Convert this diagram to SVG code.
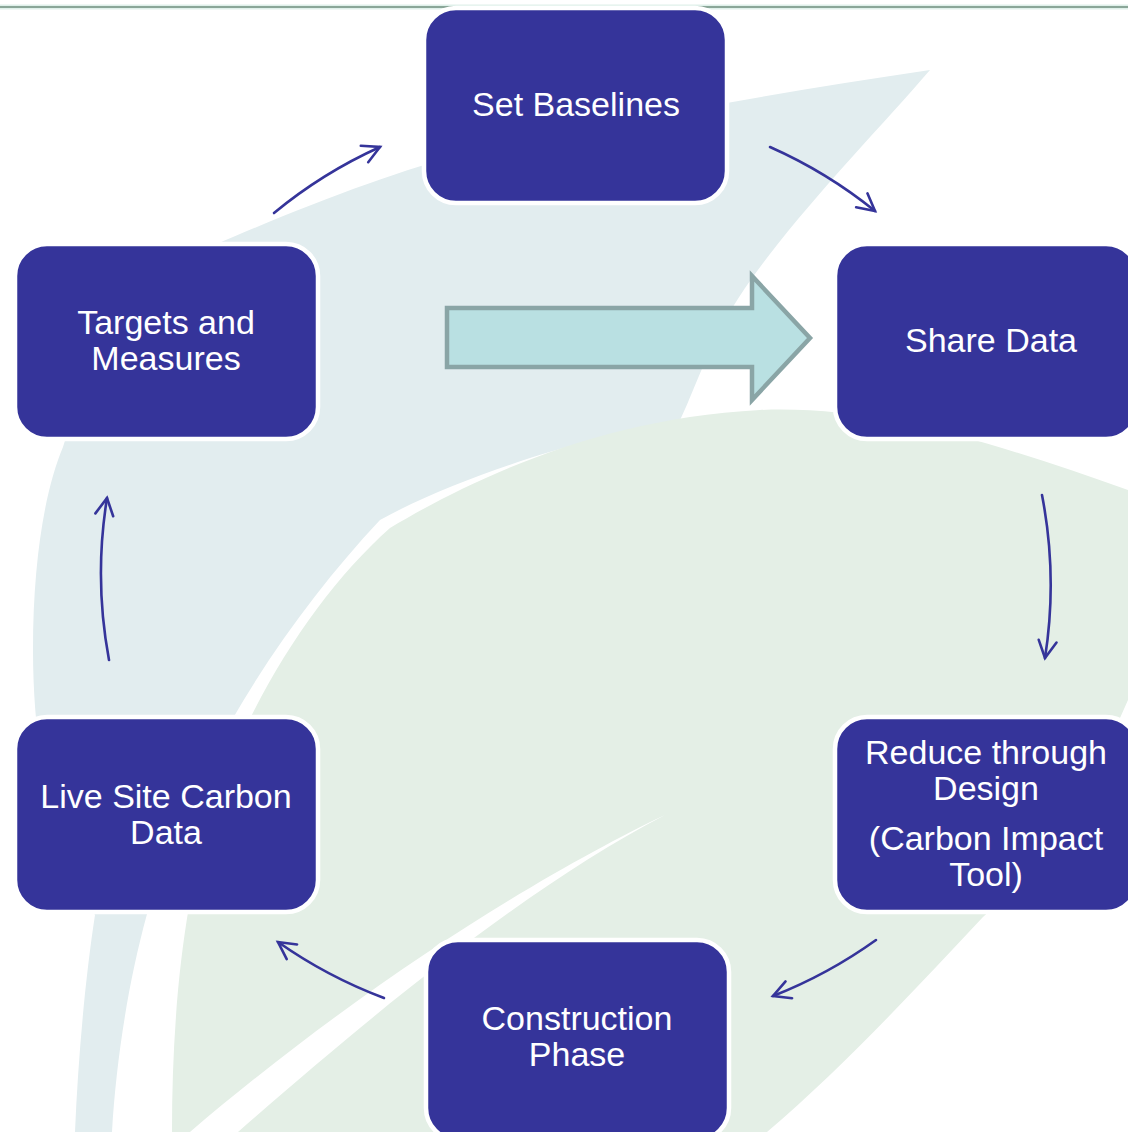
<svg xmlns="http://www.w3.org/2000/svg" width="1128" height="1132" viewBox="0 0 1128 1132">
<style>
.node{fill:#35349a;stroke:#ffffff;stroke-width:4.5}
.lbl{font-family:"Liberation Sans",Arial,sans-serif;font-size:34px;fill:#ffffff;text-anchor:middle}
.conn{fill:none;stroke:#35349a;stroke-width:2.6;stroke-linecap:round;marker-end:url(#head)}
</style>
<defs>
<marker id="head" markerUnits="userSpaceOnUse" viewBox="0 0 22 22" markerWidth="22" markerHeight="22" refX="19" refY="11" orient="auto">
<path d="M2,2 L19,11 L2,20" fill="none" stroke="#35349a" stroke-width="2.6" stroke-linecap="round" stroke-linejoin="miter"/>
</marker>
</defs>
<rect width="1128" height="1132" fill="#ffffff"/>
<g id="background">
<path d="M930,70 C870,140 760,250 720,330 C700,370 690,400 680,420 C610,432 470,470 380,520 C305,600 235,700 180,820 C140,910 118,1030 112,1132 L75,1132 C78,1060 85,980 95,915 C55,850 33,760 33,650 C33,560 45,490 63,447 C95,340 160,265 233,237 C320,200 400,170 470,152 C600,125 760,95 930,70 Z" fill="#e2edef"/>
<path d="M390,528 C470,480 600,418 760,410 C880,405 1000,445 1128,490 L1128,700 C1085,800 1035,870 983,917 C910,995 840,1070 767,1132 L172,1132 C172,1020 182,900 215,800 C255,690 320,590 390,528 Z" fill="#e4efe6"/>
<path d="M665,815 C560,865 380,970 190,1132 L238,1132 C400,990 540,880 665,815 Z" fill="#ffffff"/>
<line x1="0" y1="7" x2="1128" y2="7" stroke="#dff0ea" stroke-width="5"/>
<line x1="0" y1="7" x2="1128" y2="7" stroke="#8aa698" stroke-width="2.2"/>
</g>
<g id="big-arrow">
<path d="M447,308 L752,308 L752,276 L810,338 L752,400 L752,367 L447,367 Z" fill="#b9e0e2" stroke="#8aa5a6" stroke-width="4.5"/>
</g>
<g id="connectors">
<path class="conn" d="M274,213 A470,470 0 0 1 380,147"/>
<path class="conn" d="M770,147 A470,470 0 0 1 875,211"/>
<path class="conn" d="M1042,495 A472,472 0 0 1 1045,658"/>
<path class="conn" d="M876,940 A472,472 0 0 1 773,996"/>
<path class="conn" d="M384,998 A472,472 0 0 1 278,942"/>
<path class="conn" d="M109,660 A472,472 0 0 1 107,498"/>
</g>
<g id="set-baselines">
<rect class="node" x="424" y="8" width="303" height="195" rx="32"/>
<text class="lbl" x="576" y="116">Set Baselines</text>
</g>
<g id="share-data">
<rect class="node" x="835" y="244" width="303" height="195" rx="32"/>
<text class="lbl" x="991" y="352">Share Data</text>
</g>
<g id="reduce-through-design">
<rect class="node" x="835" y="717" width="303" height="195" rx="32"/>
<text class="lbl" x="986" y="764">Reduce through</text>
<text class="lbl" x="986" y="800">Design</text>
<text class="lbl" x="986" y="850">(Carbon Impact</text>
<text class="lbl" x="986" y="886">Tool)</text>
</g>
<g id="construction-phase">
<rect class="node" x="426" y="940" width="303" height="200" rx="32"/>
<text class="lbl" x="577" y="1030">Construction</text>
<text class="lbl" x="577" y="1066">Phase</text>
</g>
<g id="live-site-carbon-data">
<rect class="node" x="15" y="717" width="303" height="195" rx="32"/>
<text class="lbl" x="166" y="808">Live Site Carbon</text>
<text class="lbl" x="166" y="844">Data</text>
</g>
<g id="targets-and-measures">
<rect class="node" x="15" y="244" width="303" height="195" rx="32"/>
<text class="lbl" x="166" y="334">Targets and</text>
<text class="lbl" x="166" y="370">Measures</text>
</g>
</svg>
